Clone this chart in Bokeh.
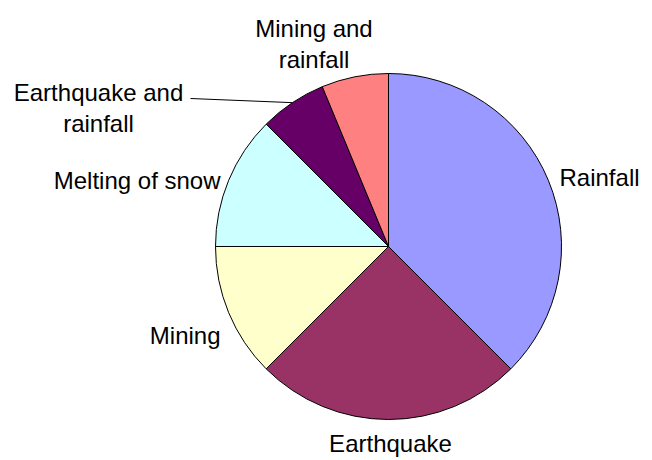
import math
from bokeh.plotting import figure
from bokeh.models import Range1d, ColumnDataSource
from bokeh.core.properties import value
from bokeh.embed import file_html
from bokeh.resources import INLINE

# ---- data ----
categories = ["Rainfall", "Earthquake", "Mining", "Melting of snow",
              "Earthquake and\nrainfall", "Mining and\nrainfall"]
counts = [6, 4, 2, 2, 1, 1]
colors = ["#9999FF", "#993366", "#FFFFCC", "#CCFFFF", "#660066", "#FF8080"]

# ---- layout ----
W, H = 652, 460
CX, CY, R = 388, 214, 173
FONT = "Liberation Sans"
FS = 24
LINE_H = 31
# label anchor (x, first-line baseline y, align) in figure pixels (y up)
label_pos = [
    (559, 283, "left"),
    (390, 17, "center"),
    (220, 125, "right"),
    (220, 280, "right"),
    (98, 368, "center"),
    (313.5, 432, "center"),
]

total = sum(counts)
starts, ends, mids = [], [], []
cum = 0
for c in counts:
    a0 = math.pi / 2 - 2 * math.pi * cum / total
    cum += c
    a1 = math.pi / 2 - 2 * math.pi * cum / total
    starts.append(a0)
    ends.append(a1)
    mids.append((a0 + a1) / 2)

p = figure(width=W, height=H, output_backend="svg", toolbar_location=None,
           x_range=Range1d(0, W), y_range=Range1d(0, H), min_border=0)
p.axis.visible = False
p.grid.visible = False
p.outline_line_color = None
p.background_fill_color = "white"
p.border_fill_color = "white"

src = ColumnDataSource(dict(start=starts, end=ends, color=colors))
p.wedge(x=CX, y=CY, radius=R, start_angle="start", end_angle="end",
        direction="clock", fill_color="color", line_color="black",
        line_width=1, source=src)

# leader line for the small "Earthquake and rainfall" slice
i = 4
ex = CX + R * math.cos(mids[i])
ey = CY + R * math.sin(mids[i])
p.line(x=[label_pos[i][0] + 92, ex], y=[label_pos[i][1] - 6, ey],
       line_color="black", line_width=1)

xs, ys, txt, aligns = [], [], [], []
for lab, (lx, ly, al) in zip(categories, label_pos):
    for k, line in enumerate(lab.split("\n")):
        xs.append(lx)
        ys.append(ly - k * LINE_H)
        txt.append(line)
        aligns.append(al)
tsrc = ColumnDataSource(dict(x=xs, y=ys, text=txt, align=aligns))
p.text(x="x", y="y", text="text", text_align="align",
       text_baseline="alphabetic", text_font=value(FONT),
       text_font_size=f"{FS}px", text_color="black", source=tsrc)

open("out.html", "w").write(file_html(p, INLINE))
